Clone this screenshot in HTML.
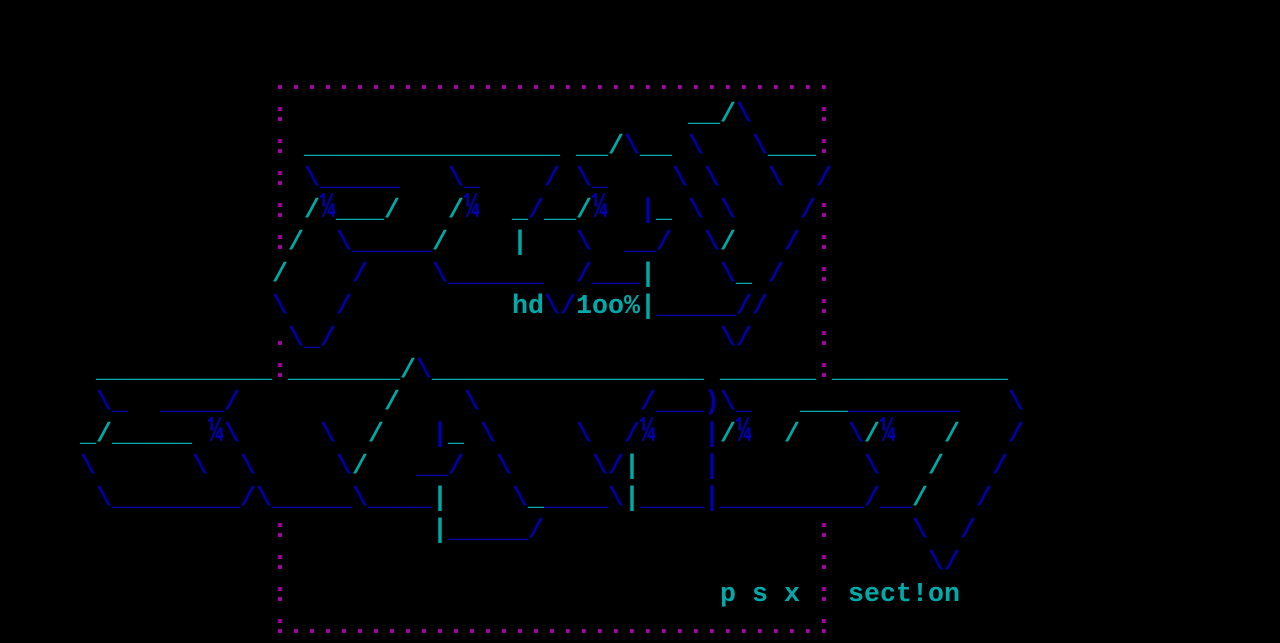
<!DOCTYPE html>
<html><head><meta charset="utf-8"><style>
html,body{margin:0;padding:0;background:#000;}
body{width:1280px;height:640px;position:relative;overflow:hidden;}
#w{position:absolute;left:0;top:3px;width:1280px;height:640px;}
i{position:absolute;font-style:normal;white-space:pre;font-family:"Liberation Mono","DejaVu Sans Mono",monospace;font-size:26.667px;line-height:32px;height:32px;font-weight:bold;}
.c{color:#00aaaa}.b{color:#0000aa}.m{color:#aa00aa}
.q{display:inline-block;transform:scale(1,1.35);transform-origin:50% 70%;}
</style></head><body><div id="w">
<i class="m" style="left:272px;top:64px">...................................</i>
<i class="m" style="left:272px;top:96px">:</i><i class="c" style="left:688px;top:96px">__/</i><i class="b" style="left:736px;top:96px">\</i><i class="m" style="left:816px;top:96px">:</i>
<i class="m" style="left:272px;top:128px">:</i><i class="c" style="left:304px;top:128px">________________</i><i class="c" style="left:576px;top:128px">__/</i><i class="b" style="left:624px;top:128px">\</i><i class="c" style="left:640px;top:128px">__</i><i class="b" style="left:688px;top:128px">\</i><i class="b" style="left:752px;top:128px">\</i><i class="c" style="left:768px;top:128px">___</i><i class="m" style="left:816px;top:128px">:</i>
<i class="m" style="left:272px;top:160px">:</i><i class="b" style="left:304px;top:160px">\_____</i><i class="b" style="left:448px;top:160px">\_</i><i class="b" style="left:544px;top:160px">/</i><i class="b" style="left:576px;top:160px">\_</i><i class="b" style="left:672px;top:160px">\</i><i class="b" style="left:704px;top:160px">\</i><i class="b" style="left:768px;top:160px">\</i><i class="b" style="left:816px;top:160px">/</i>
<i class="m" style="left:272px;top:192px">:</i><i class="c" style="left:304px;top:192px">/</i><i class="b" style="left:320px;top:192px"><span class="q">¼</span></i><i class="c" style="left:336px;top:192px">___/</i><i class="c" style="left:448px;top:192px">/</i><i class="b" style="left:464px;top:192px"><span class="q">¼</span></i><i class="c" style="left:512px;top:192px">_</i><i class="b" style="left:528px;top:192px">/</i><i class="c" style="left:544px;top:192px">__/</i><i class="b" style="left:592px;top:192px"><span class="q">¼</span></i><i class="b" style="left:640px;top:192px">|</i><i class="c" style="left:656px;top:192px">_</i><i class="b" style="left:688px;top:192px">\</i><i class="b" style="left:720px;top:192px">\</i><i class="b" style="left:800px;top:192px">/</i><i class="m" style="left:816px;top:192px">:</i>
<i class="m" style="left:272px;top:224px">:</i><i class="c" style="left:288px;top:224px">/</i><i class="b" style="left:336px;top:224px">\_____</i><i class="c" style="left:432px;top:224px">/</i><i class="c" style="left:512px;top:224px">|</i><i class="b" style="left:576px;top:224px">\</i><i class="b" style="left:624px;top:224px">__/</i><i class="b" style="left:704px;top:224px">\</i><i class="c" style="left:720px;top:224px">/</i><i class="b" style="left:784px;top:224px">/</i><i class="m" style="left:816px;top:224px">:</i>
<i class="c" style="left:272px;top:256px">/</i><i class="b" style="left:352px;top:256px">/</i><i class="b" style="left:432px;top:256px">\______</i><i class="b" style="left:576px;top:256px">/___</i><i class="c" style="left:640px;top:256px">|</i><i class="b" style="left:720px;top:256px">\</i><i class="c" style="left:736px;top:256px">_</i><i class="b" style="left:768px;top:256px">/</i><i class="m" style="left:816px;top:256px">:</i>
<i class="b" style="left:272px;top:288px">\</i><i class="b" style="left:336px;top:288px">/</i><i class="c" style="left:512px;top:288px">hd</i><i class="b" style="left:544px;top:288px">\/</i><i class="c" style="left:576px;top:288px">1oo%|</i><i class="b" style="left:656px;top:288px">_____//</i><i class="m" style="left:816px;top:288px">:</i>
<i class="m" style="left:272px;top:320px">.</i><i class="b" style="left:288px;top:320px">\_/</i><i class="b" style="left:720px;top:320px">\/</i><i class="m" style="left:816px;top:320px">:</i>
<i class="c" style="left:96px;top:352px">___________</i><i class="m" style="left:272px;top:352px">:</i><i class="c" style="left:288px;top:352px">_______/</i><i class="b" style="left:416px;top:352px">\</i><i class="c" style="left:432px;top:352px">_________________</i><i class="c" style="left:720px;top:352px">______</i><i class="m" style="left:816px;top:352px">:</i><i class="c" style="left:832px;top:352px">___________</i>
<i class="b" style="left:96px;top:384px">\_</i><i class="b" style="left:160px;top:384px">____/</i><i class="c" style="left:384px;top:384px">/</i><i class="b" style="left:464px;top:384px">\</i><i class="b" style="left:640px;top:384px">/___)\_</i><i class="c" style="left:800px;top:384px">___</i><i class="b" style="left:848px;top:384px">_______</i><i class="b" style="left:1008px;top:384px">\</i>
<i class="c" style="left:80px;top:416px">_/_____</i><i class="b" style="left:208px;top:416px"><span class="q">¼</span>\</i><i class="b" style="left:320px;top:416px">\</i><i class="c" style="left:368px;top:416px">/</i><i class="b" style="left:432px;top:416px">|</i><i class="c" style="left:448px;top:416px">_</i><i class="b" style="left:480px;top:416px">\</i><i class="b" style="left:576px;top:416px">\</i><i class="b" style="left:624px;top:416px">/<span class="q">¼</span></i><i class="b" style="left:704px;top:416px">|</i><i class="c" style="left:720px;top:416px">/</i><i class="b" style="left:736px;top:416px"><span class="q">¼</span></i><i class="c" style="left:784px;top:416px">/</i><i class="b" style="left:848px;top:416px">\</i><i class="c" style="left:864px;top:416px">/</i><i class="b" style="left:880px;top:416px"><span class="q">¼</span></i><i class="c" style="left:944px;top:416px">/</i><i class="b" style="left:1008px;top:416px">/</i>
<i class="b" style="left:80px;top:448px">\</i><i class="b" style="left:192px;top:448px">\</i><i class="b" style="left:240px;top:448px">\</i><i class="b" style="left:336px;top:448px">\</i><i class="c" style="left:352px;top:448px">/</i><i class="b" style="left:416px;top:448px">__/</i><i class="b" style="left:496px;top:448px">\</i><i class="b" style="left:592px;top:448px">\/</i><i class="c" style="left:624px;top:448px">|</i><i class="b" style="left:704px;top:448px">|</i><i class="b" style="left:864px;top:448px">\</i><i class="c" style="left:928px;top:448px">/</i><i class="b" style="left:992px;top:448px">/</i>
<i class="b" style="left:96px;top:480px">\________/\_____\____</i><i class="c" style="left:432px;top:480px">|</i><i class="b" style="left:512px;top:480px">\</i><i class="c" style="left:528px;top:480px">_</i><i class="b" style="left:544px;top:480px">____\</i><i class="c" style="left:624px;top:480px">|</i><i class="b" style="left:640px;top:480px">____|_________/__</i><i class="c" style="left:912px;top:480px">/</i><i class="b" style="left:976px;top:480px">/</i>
<i class="m" style="left:272px;top:512px">:</i><i class="c" style="left:432px;top:512px">|</i><i class="b" style="left:448px;top:512px">_____/</i><i class="m" style="left:816px;top:512px">:</i><i class="b" style="left:912px;top:512px">\</i><i class="b" style="left:960px;top:512px">/</i>
<i class="m" style="left:272px;top:544px">:</i><i class="m" style="left:816px;top:544px">:</i><i class="b" style="left:928px;top:544px">\/</i>
<i class="m" style="left:272px;top:576px">:</i><i class="c" style="left:720px;top:576px">p s x</i><i class="m" style="left:816px;top:576px">:</i><i class="c" style="left:848px;top:576px">sect!on</i>
<i class="m" style="left:272px;top:608px">:.................................:</i>
</div></body></html>
